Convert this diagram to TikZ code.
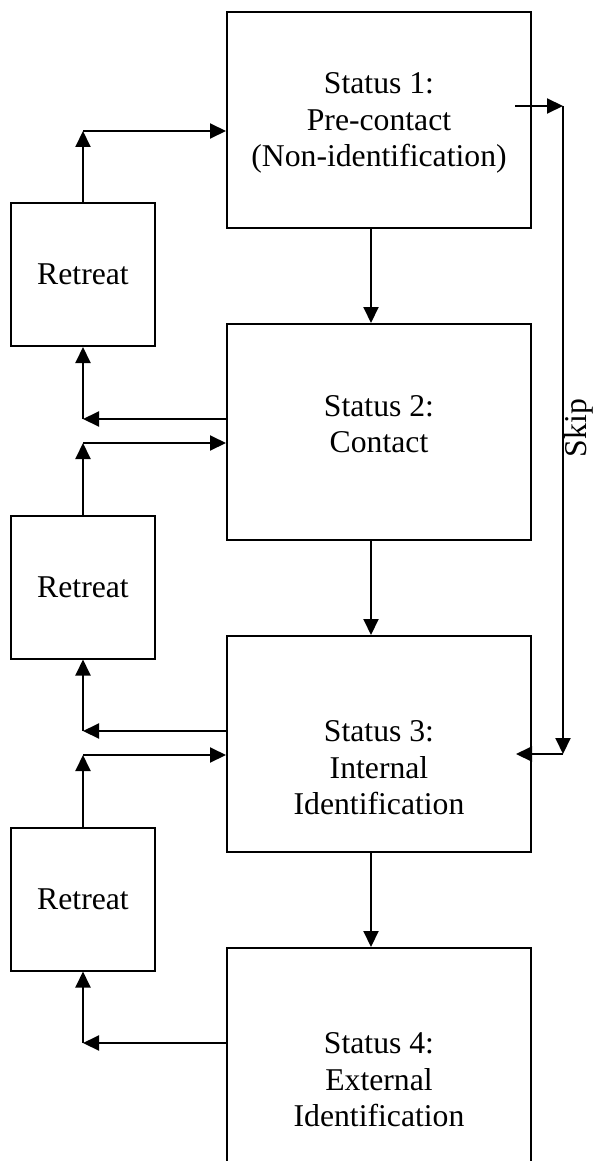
\documentclass[tikz,border=0pt]{standalone}
\usepackage{fontspec}
\setmainfont{Liberation Serif}
\usetikzlibrary{arrows.meta,calc}
\begin{document}
\begin{tikzpicture}[x=1pt,y=-1pt,
  line width=2pt,
  stat/.style={draw,rectangle,minimum width=304pt,minimum height=216pt,inner sep=0pt},
  retreatbox/.style={draw,rectangle,minimum width=144pt,minimum height=143pt,inner sep=0pt},
  lbl/.style={align=center,font=\fontsize{31.7}{36.5}\selectfont,inner sep=0pt},
  arr/.style={-{Triangle[length=16pt,width=15pt]}}]
\useasboundingbox (0,0) rectangle (594,1161);
\fill[white] (0,0) rectangle (594,1161);

% status boxes
\node[stat] (s1) at (379,120) {};
\node[stat] (s2) at (379,432) {};
\node[stat] (s3) at (379,744) {};
\node[stat] (s4) at (379,1056) {};

% retreat boxes
\node[retreatbox] (r1) at (83,274.5) {};
\node[retreatbox] (r2) at (83,587) {};
\node[retreatbox] (r3) at (83,899) {};

% labels
\node[lbl] at (379,123) {Status 1:\\Pre-contact\\(Non-identification)};
\node[lbl] at (379,424) {Status 2:\\Contact};
\node[lbl] at (379,768) {Status 3:\\Internal\\Identification};
\node[lbl] at (379,1080) {Status 4:\\External\\Identification};
\node[lbl] at (r1) {Retreat};
\node[lbl] at (r2) {Retreat};
\node[lbl] at (r3) {Retreat};
\node[lbl,rotate=90] (skip) at (579,428) {Skip};

% bend points of the retreat loops
\coordinate (u1) at (83,131);
\coordinate (d1) at (83,419);
\coordinate (u2) at (83,443);
\coordinate (d2) at (83,731);
\coordinate (u3) at (83,755);
\coordinate (d3) at (83,1043);

% forward paths from each retreat
\draw[arr] (r1.north) -- (u1);
\draw[arr] (u1) -- (u1 -| s1.west);
\draw[arr] (r2.north) -- (u2);
\draw[arr] (u2) -- (u2 -| s2.west);
\draw[arr] (r3.north) -- (u3);
\draw[arr] (u3) -- (u3 -| s3.west);

% paths back into retreat
\draw[arr] (d1 -| s2.west) -- (d1);
\draw[arr] (d1) -- (r1.south);
\draw[arr] (d2 -| s3.west) -- (d2);
\draw[arr] (d2) -- (r2.south);
\draw[arr] (d3 -| s4.west) -- (d3);
\draw[arr] (d3) -- (r3.south);

% main sequence
\draw[arr] (s1.south -| 371,0) -- (s2.north -| 371,0);
\draw[arr] (s2.south -| 371,0) -- (s3.north -| 371,0);
\draw[arr] (s3.south -| 371,0) -- (s4.north -| 371,0);

% skip path
\coordinate (k0) at (515,106);
\coordinate (k1) at (563,106);
\coordinate (k2) at (563,754);
\coordinate (k3) at (516,754);
\draw[arr] (k0) -- (k1);
\draw[arr] (k1) -- (k2);
\draw[arr] (k2) -- (k3);
\end{tikzpicture}
\end{document}
